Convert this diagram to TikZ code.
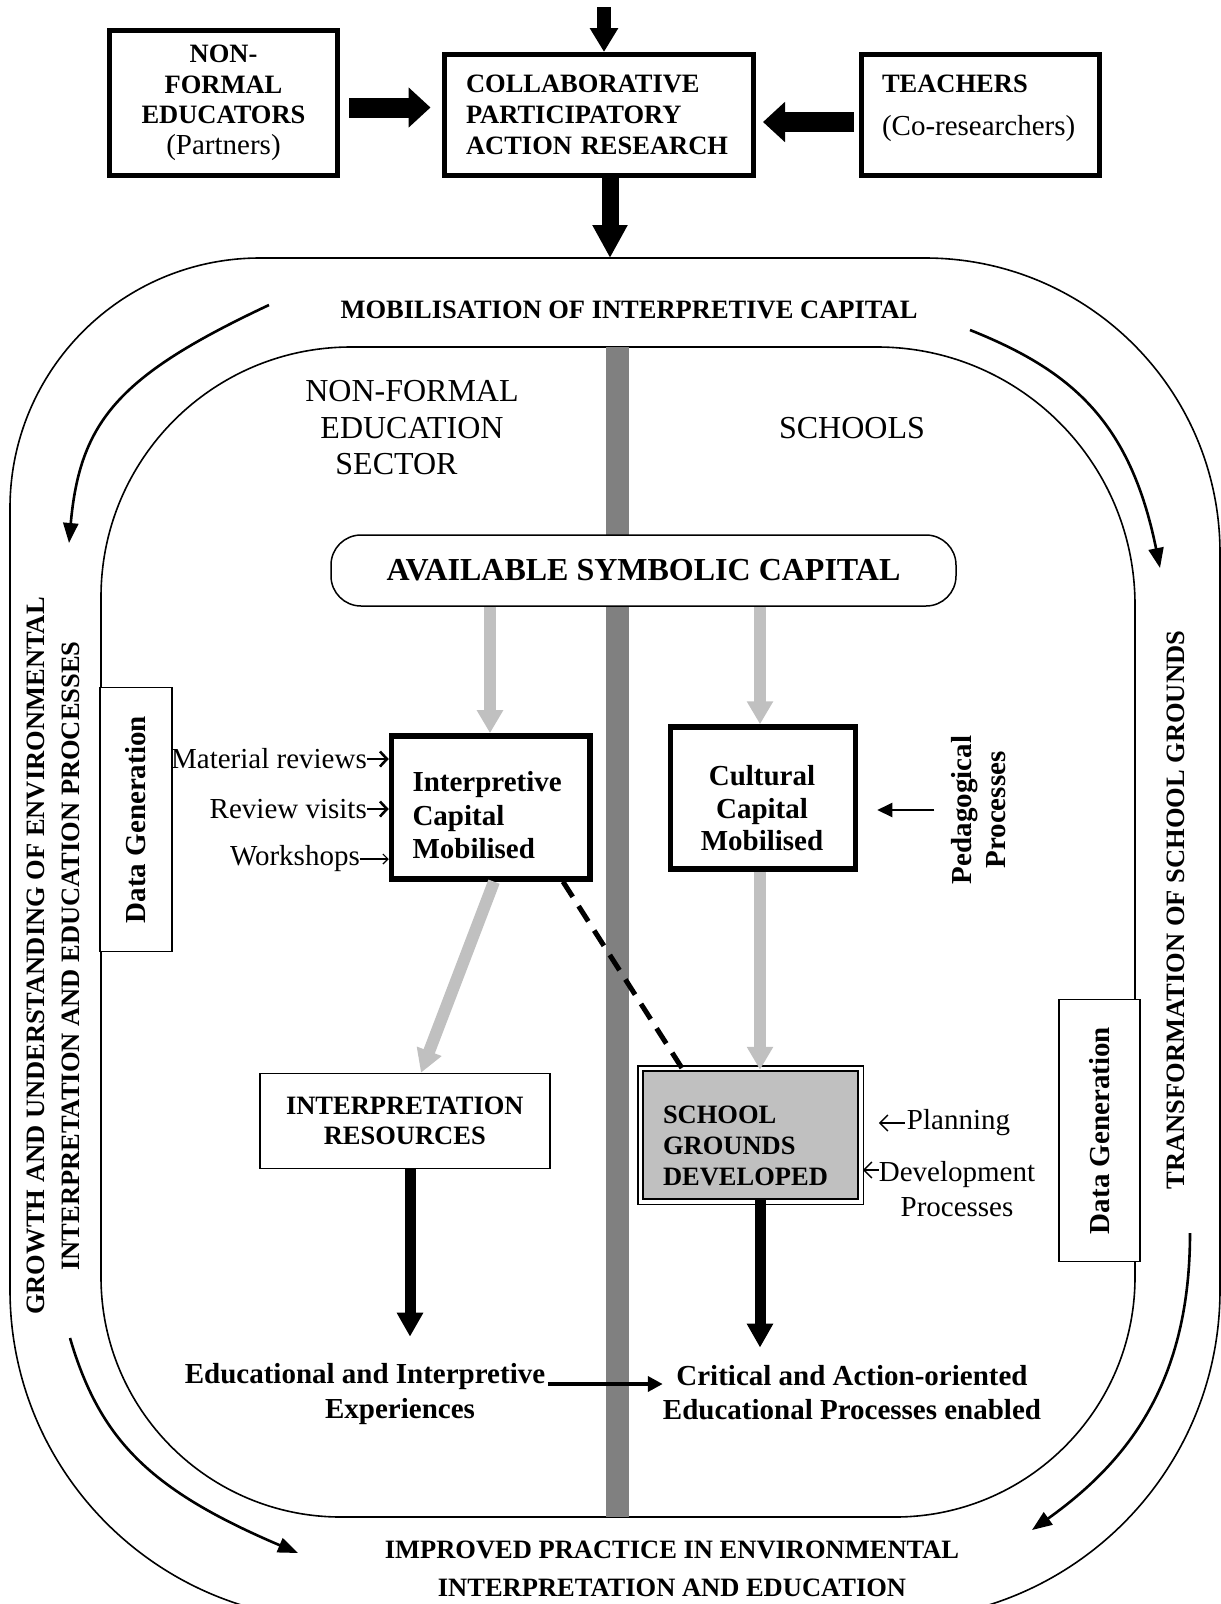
\documentclass[tikz,border=0pt]{standalone}
\usepackage{fontspec}
\setmainfont{Liberation Serif}
\usetikzlibrary{arrows.meta,calc}

\definecolor{barGrey}{HTML}{808080}
\definecolor{flowGrey}{HTML}{C0C0C0}

\tikzset{
  capsbold/.style={font=\bfseries\fontsize{26.5}{31}\selectfont},
  mixbold/.style={font=\bfseries\fontsize{29}{33.5}\selectfont},
  plaintext/.style={font=\fontsize{29}{35}\selectfont},
  bigtext/.style={font=\fontsize{32}{36.5}\selectfont},
  topbox/.style={draw, line width=5pt},
  heavybox/.style={draw, line width=5.5pt, fill=white},
  plainbox/.style={draw, line width=1.5pt, fill=white},
  ring/.style={line width=1.6pt},
  blockarrow/.style={line width=20pt, -{Triangle[length=22pt,width=39pt]}},
  inarrow/.style={line width=14pt, -{Triangle[length=24pt,width=27pt]}},
  outarrow/.style={line width=17pt, -{Triangle[length=33pt,width=33pt]}},
  greyarrow/.style={draw=flowGrey, line width=12pt, -{Triangle[length=23pt,width=25pt]}},
  blackarrow/.style={line width=11pt, -{Triangle[length=24pt,width=25pt]}},
  looparrow/.style={line width=2.6pt, -{Triangle[length=20pt,width=15pt]}},
  linkarrow/.style={line width=4pt, -{Triangle[length=15pt,width=15pt]}},
  dashline/.style={line width=5pt, dash pattern=on 18pt off 11pt},
  pointarrow/.style={line width=2pt, -{Triangle[length=15pt,width=14pt]}},
  barbarrow/.style={line width=1.5pt, -{Straight Barb[length=8pt,width=16pt]}},
  boldbarb/.style={line width=2.6pt, -{Straight Barb[length=7pt,width=15pt]}},
  thinbarb/.style={line width=1.2pt, -{Straight Barb[length=5pt,width=10pt]}},
}

\begin{document}
\begin{tikzpicture}[x=1pt,y=-1pt]
  \useasboundingbox (0,0) rectangle (1221,1604);
  \clip (0,0) rectangle (1221,1604);

  % outer band and inner field
  \draw[ring] (260,258) -- (925,258)
    arc[start angle=270, end angle=360, x radius=295, y radius=295] -- (1220,1290)
    arc[start angle=0, end angle=90, x radius=330, y radius=330] -- (340,1620)
    arc[start angle=90, end angle=180, x radius=330, y radius=330] -- (10,508)
    arc[start angle=180, end angle=270, x radius=250, y radius=250] -- cycle;
  \draw[ring] (351,347) -- (877,347)
    arc[start angle=270, end angle=360, x radius=258, y radius=258] -- (1135,1277)
    arc[start angle=0, end angle=90, x radius=240, y radius=240] -- (341,1517)
    arc[start angle=90, end angle=180, x radius=240, y radius=240] -- (101,597)
    arc[start angle=180, end angle=270, x radius=250, y radius=250] -- cycle;
  \fill[barGrey] (605.5,347) rectangle (628.5,1517);

  \node (nfe) [topbox, minimum width=228pt, minimum height=145pt, align=center, capsbold, font=\bfseries\fontsize{26.5}{30.5}\selectfont] at (223.5,103) {NON-\\FORMAL\\EDUCATORS\\\textmd{\fontsize{29}{30.5}\selectfont(Partners)}};
  \node (cpar) [topbox, minimum width=309pt, minimum height=121pt, text width=265pt, inner xsep=22pt, align=left, capsbold] at (598.5,115) {COLLABORATIVE\\PARTICIPATORY\\ACTION RESEARCH};
  \node (teach) [topbox, minimum width=238pt, minimum height=121pt] at (980.5,115) {};
  \node (teachtx) [align=left, text width=198pt, inner sep=0pt, capsbold] at (981,108.5) {TEACHERS\\[12pt]\textmd{\fontsize{29}{31}\selectfont(Co-researchers)}};

  \coordinate (topin) at (604,7);
  \coordinate (ringtop) at (610,258);
  \draw[inarrow] (topin) -- (topin |- cpar.north);
  \draw[outarrow] (ringtop |- cpar.south) -- (ringtop);
  \draw[blockarrow, shorten <=9pt, shorten >=11pt] (nfe.east |- 0,107.5) -- (cpar.west |- 0,107.5);
  \draw[blockarrow, shorten <=5pt, shorten >=7.5pt] (teach.west |- 0,122) -- (cpar.east |- 0,122);

  \node (mob) [capsbold] at (629,310) {MOBILISATION OF INTERPRETIVE CAPITAL};
  \node (impr) [capsbold, align=center, font=\bfseries\fontsize{26.5}{38}\selectfont] at (672,1569) {IMPROVED PRACTICE IN ENVIRONMENTAL\\INTERPRETATION AND EDUCATION};
  \node (growth) [capsbold, rotate=90, align=center, font=\bfseries\fontsize{26.5}{35}\selectfont] at (53.5,956) {GROWTH AND UNDERSTANDING OF ENVIRONMENTAL\\INTERPRETATION AND EDUCATION PROCESSES};
  \node (transf) [capsbold, rotate=90] at (1176,910) {TRANSFORMATION OF SCHOOL GROUNDS};

  \draw[looparrow] (269,305) .. controls (120,375) and (80,420) .. (69,543);
  \draw[looparrow] (970,330) .. controls (1070,370) and (1130,420) .. (1160,568);
  \draw[looparrow] (70,1338) .. controls (100,1440) and (150,1490) .. (298,1553);
  \draw[looparrow] (1190,1233) .. controls (1190,1380) and (1130,1460) .. (1032,1530);

  \node (nfsec) [bigtext, align=center] at (412,428) {NON-FORMAL\\EDUCATION\\SECTOR\hspace*{31pt}};
  \node (sch) [bigtext] at (852,428) {SCHOOLS};

  \node (asc) [draw, line width=1.5pt, fill=white, rounded corners=30pt, minimum width=625pt, minimum height=71pt, font=\bfseries\fontsize{32}{36}\selectfont] at (643.5,570.5) {AVAILABLE SYMBOLIC CAPITAL};

  \node (dgl) [plainbox, mixbold, rotate=90, minimum width=264pt, minimum height=72pt] at (135.8,819.7) {Data Generation};
  \node (dgr) [plainbox, mixbold, rotate=90, minimum width=262pt, minimum height=81pt] at (1099.5,1130.5) {Data Generation};

  \node (icm) [heavybox, minimum width=198.5pt, minimum height=143pt] at (490.75,807.4) {};
  \node (icmtx) [mixbold, align=left, text width=155pt, inner sep=0pt] at (490,815.5) {Interpretive\\Capital\\Mobilised};
  \node (ccm) [heavybox, minimum width=185pt, minimum height=142pt] at (763,798) {};
  \node (ccmtx) [mixbold, align=center, font=\bfseries\fontsize{29}{32.5}\selectfont] at (762,808.5) {Cultural\\Capital\\Mobilised};

  \node (irs) [plainbox, minimum width=290pt, minimum height=95pt, capsbold, align=center, font=\bfseries\fontsize{26.5}{30}\selectfont] at (404.8,1121) {INTERPRETATION\\RESOURCES};
  \node (sgd) [draw, line width=2.5pt, fill=flowGrey, minimum width=215pt, minimum height=128pt] at (750.5,1135) {};
  \draw[line width=1.5pt] ($(sgd.north west)+(-4,-4)$) rectangle ($(sgd.south east)+(4,4)$);
  \node (sgdtx) [capsbold, align=left, text width=195pt, inner sep=0pt] at (760.5,1146) {SCHOOL\\GROUNDS\\DEVELOPED};

  \node (matrev) [plaintext, inner sep=0pt, anchor=east] at (367,759) {Material reviews};
  \node (revvis) [plaintext, inner sep=0pt, anchor=east] at (367,809) {Review visits};
  \node (works) [plaintext, inner sep=0pt, anchor=east] at (360,859) {Workshops};
  \draw[boldbarb] (matrev) -- (matrev -| icm.west);
  \draw[boldbarb] (revvis) -- (revvis -| icm.west);
  \draw[thinbarb] (works) -- (works -| icm.west);

  \node (pedp) [mixbold, align=center, rotate=90, font=\bfseries\fontsize{29}{34}\selectfont] at (979,810) {Pedagogical\\Processes};
  \draw[pointarrow, shorten <=14pt, shorten >=19pt] (pedp.north) -- (pedp.north -| ccm.east);

  \node (plan) [plaintext, inner sep=0pt] at (958.5,1123) {Planning};
  \node (devp) [plaintext, align=center, inner sep=0pt] at (957,1189) {Development\\Processes};
  \draw[barbarrow, shorten <=2pt, shorten >=19.6pt] (plan.west) -- (plan.west -| sgd.east);
  \draw[barbarrow, shorten >=3.6pt] (devp.west |- 0,1170) -- (sgd.east |- 0,1170);

  \node (edu) [mixbold, align=center, inner sep=0pt, font=\bfseries\fontsize{29}{35}\selectfont] at (365,1394) {Educational and Interpretive\\\hspace*{70pt}Experiences};
  \node (crit) [mixbold, align=center, inner sep=0pt, font=\bfseries\fontsize{29}{34}\selectfont] at (852,1393) {Critical and Action-oriented\\Educational Processes enabled};

  \draw[greyarrow] (asc.south -| 490,0) -- (icm.north -| 490,0);
  \draw[greyarrow] (asc.south -| 760,0) -- (ccm.north -| 760,0);
  \draw[greyarrow] (ccm.south -| 760,0) -- (sgd.north -| 760,0);
  \draw[greyarrow] (icm.south -| 494,0) -- (irs.north -| 421,0);
  \draw[dashline] (icm.south -| 563,0) -- (sgd.north -| 683,0);

  \draw[blackarrow, shorten >=26.5pt] (irs.south -| 410,0) -- (edu.north -| 410,0);
  \draw[blackarrow, shorten >=18pt] (sgd.south -| 760,0) -- (crit.north -| 760,0);
  \draw[linkarrow, shorten <=3pt] (edu.east |- 0,1384) -- (crit.west |- 0,1384);
\end{tikzpicture}
\end{document}
